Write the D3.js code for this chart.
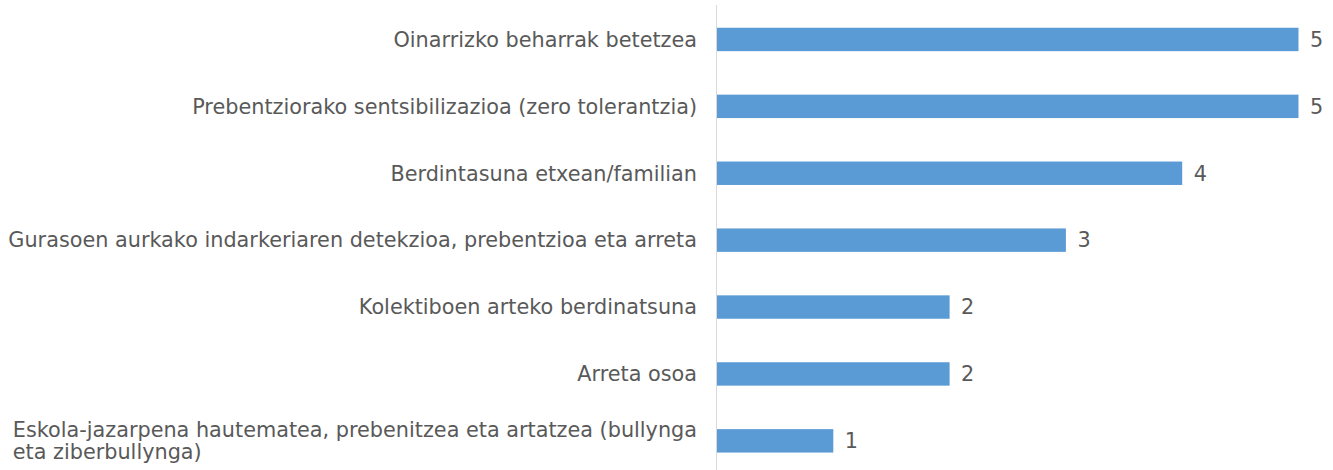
<!DOCTYPE html>
<html><head><meta charset="utf-8">
<script src="https://cdn.jsdelivr.net/npm/d3@7"></script>
<style>body{margin:0;background:#fff}svg{display:block}</style>
</head><body>
<svg id="c" width="1333" height="470"></svg>
<script>
const categories = [
  "Oinarrizko beharrak betetzea",
  "Prebentziorako sentsibilizazioa (zero tolerantzia)",
  "Berdintasuna etxean/familian",
  "Gurasoen aurkako indarkeriaren detekzioa, prebentzioa eta arreta",
  "Kolektiboen arteko berdinatsuna",
  "Arreta osoa",
  "Eskola-jazarpena hautematea, prebenitzea eta artatzea (bullynga\neta ziberbullynga)"
];
const values = [5, 5, 4, 3, 2, 2, 1];

const svg = d3.select("#c");
const font = "DejaVu Sans, Verdana, sans-serif";
const textColor = "#595959";

const x = d3.scaleLinear().domain([0, 5]).range([717, 1298.5]);
const y = d3.scaleBand().domain(categories).range([6, 474.3]).paddingInner(0.65).paddingOuter(0.325);

const probe = svg.append("text").attr("font-family", font).attr("font-size", 20).text(categories[3]);
const w = probe.node().getComputedTextLength();
probe.remove();
const fs = 20 * 689 / w;

svg.append("line").attr("x1", 716.5).attr("x2", 716.5).attr("y1", 5).attr("y2", 470)
  .attr("stroke", "#d9d9d9").attr("stroke-width", 1);

svg.selectAll("rect.bar").data(values).join("rect").attr("class", "bar")
  .attr("x", x(0)).attr("y", (d, i) => y(categories[i]))
  .attr("width", d => x(d) - x(0)).attr("height", y.bandwidth())
  .attr("fill", "#5b9bd5");

svg.selectAll("text.val").data(values).join("text").attr("class", "val")
  .attr("x", d => x(d) + 11.5).attr("y", (d, i) => y(categories[i]) + y.bandwidth() / 2)
  .attr("dy", "0.35em").attr("font-family", font).attr("font-size", fs).attr("fill", textColor)
  .text(d => d);

categories.forEach((c, i) => {
  const cy = y(c) + y.bandwidth() / 2;
  const lines = c.split("\n");
  const t = svg.append("text").attr("font-family", font).attr("font-size", fs).attr("fill", textColor);
  if (lines.length === 1) {
    t.attr("x", 697).attr("y", cy).attr("dy", "0.35em").attr("text-anchor", "end").text(c);
  } else {
    const lh = 22.5;
    lines.forEach((ln, k) => {
      t.append("tspan").attr("y", cy + (k - (lines.length - 1) / 2) * lh).attr("dy", "0.35em").text(ln);
    });
    let wmax = 0;
    t.selectAll("tspan").each(function(){ wmax = Math.max(wmax, this.getComputedTextLength()); });
    t.selectAll("tspan").attr("x", 697 - wmax);
  }
});
</script>
</body></html>
